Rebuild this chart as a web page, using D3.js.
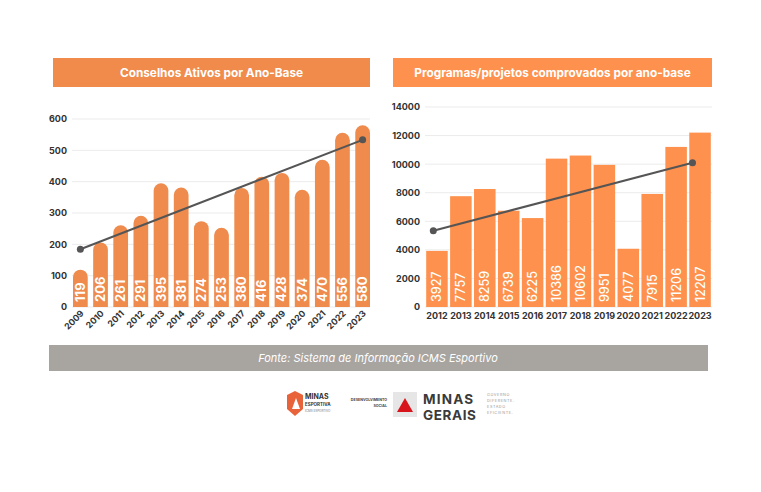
<!DOCTYPE html>
<html><head><meta charset="utf-8">
<script src="https://cdn.jsdelivr.net/npm/d3@7/dist/d3.min.js"></script>
<style>
body{margin:0;background:#fff;}
text{font-family:Inter,"Open Sans",sans-serif;}
</style></head><body>
<svg id="c" width="761" height="492"></svg>
<script>
// Data
const leftTitle = "Conselhos Ativos por Ano-Base";
const leftYears = ["2009","2010","2011","2012","2013","2014","2015","2016","2017","2018","2019","2020","2021","2022","2023"];
const leftValues = [119,206,261,291,395,381,274,253,380,416,428,374,470,556,580];
const leftTicks = [0,100,200,300,400,500,600];

const rightTitle = "Programas/projetos comprovados por ano-base";
const rightYears = ["2012","2013","2014","2015","2016","2017","2018","2019","2020","2021","2022","2023"];
const rightValues = [3927,7757,8259,6739,6225,10386,10602,9951,4077,7915,11206,12207];
const rightTicks = [0,2000,4000,6000,8000,10000,12000,14000];
const rightTrend = [5340, 10100]; // trend line end values as drawn (start 2012, end 2023)

const sourceText = "Fonte: Sistema de Informação ICMS Esportivo";

const svg = d3.select("#c");

function regression(vals){
  const n = vals.length, mx = (n-1)/2, my = d3.mean(vals);
  let num=0, den=0;
  vals.forEach((v,i)=>{num+=(i-mx)*(v-my); den+=(i-mx)*(i-mx);});
  const b = num/den, a = my - b*mx;
  return i => a + b*i;
}

// ---------- Left chart ----------
{
  const color = "#ee8b4d";
  svg.append("rect").attr("x",53).attr("y",58).attr("width",317).attr("height",29).attr("fill","#f08b4c");
  svg.append("text").attr("x",211.5).attr("y",76.5).attr("text-anchor","middle").attr("fill","#fff")
     .attr("font-size",11.8).attr("font-weight",700).text(leftTitle);

  const x = d3.scaleBand().domain(leftYears).range([72,371]).paddingInner(0.27).paddingOuter(0.05);
  const y = d3.scaleLinear().domain([0,600]).range([307,119]);
  const g = svg.append("g");
  g.selectAll("line.grid").data(leftTicks).join("line").attr("class","grid")
    .attr("x1",72).attr("x2",370).attr("y1",d=>y(d)).attr("y2",d=>y(d))
    .attr("stroke","#ebebeb").attr("stroke-width",1);
  const ax = d3.axisLeft(y).tickValues(leftTicks).tickSize(0).tickPadding(0).tickFormat(d3.format("d"));
  const ag = g.append("g").attr("transform","translate(67,0)").call(ax);
  ag.select(".domain").remove();
  ag.selectAll("text").attr("font-size",9).attr("font-weight",700).attr("fill","#333").attr("font-family","Inter,sans-serif");

  const bw = x.bandwidth(), r = bw/2;
  g.selectAll("path.bar").data(leftValues).join("path").attr("class","bar")
    .attr("fill",color)
    .attr("d",(d,i)=>{
      const x0 = x(leftYears[i]), y0 = y(d), yb = y(0);
      return `M${x0},${yb} L${x0},${y0+r} A${r},${r} 0 0 1 ${x0+bw},${y0+r} L${x0+bw},${yb} Z`;
    });
  g.selectAll("text.val").data(leftValues).join("text").attr("class","val")
    .attr("transform",(d,i)=>`translate(${x(leftYears[i])+bw/2+4.5},302) rotate(-90)`)
    .attr("fill","#fff").attr("font-size",13).attr("font-weight",700).text(d=>d);
  g.selectAll("text.xl").data(leftYears).join("text").attr("class","xl")
    .attr("transform",d=>`translate(${x(d)+bw/2+4},314) rotate(-45)`)
    .attr("text-anchor","end").attr("fill","#333").attr("font-size",8.8).attr("font-weight",700).text(d=>d);

  const f = regression(leftValues);
  const n = leftValues.length;
  const pts = [[x(leftYears[0])+bw/2, y(f(0))],[x(leftYears[n-1])+bw/2, y(f(n-1))]];
  g.append("line").attr("x1",pts[0][0]).attr("y1",pts[0][1]).attr("x2",pts[1][0]).attr("y2",pts[1][1])
    .attr("stroke","#555").attr("stroke-width",2);
  g.selectAll("circle").data(pts).join("circle").attr("cx",d=>d[0]).attr("cy",d=>d[1]).attr("r",3.5).attr("fill","#555");
}

// ---------- Right chart ----------
{
  const color = "#fe914d";
  svg.append("rect").attr("x",393).attr("y",58).attr("width",319).attr("height",29).attr("fill","#fe914d");
  svg.append("text").attr("x",552.5).attr("y",76.5).attr("text-anchor","middle").attr("fill","#fff")
     .attr("font-size",11.8).attr("font-weight",700).text(rightTitle);

  const x = d3.scaleBand().domain(rightYears).range([425,712]).paddingInner(0.1).paddingOuter(0.05);
  const y = d3.scaleLinear().domain([0,14000]).range([307,107]);
  const g = svg.append("g");
  g.selectAll("line.grid").data(rightTicks).join("line").attr("class","grid")
    .attr("x1",425).attr("x2",712).attr("y1",d=>y(d)).attr("y2",d=>y(d))
    .attr("stroke","#ebebeb").attr("stroke-width",1);
  const ax = d3.axisLeft(y).tickValues(rightTicks).tickSize(0).tickPadding(0).tickFormat(d3.format("d"));
  const ag = g.append("g").attr("transform","translate(420,0)").call(ax);
  ag.select(".domain").remove();
  ag.selectAll("text").attr("font-size",9).attr("font-weight",700).attr("fill","#333").attr("font-family","Inter,sans-serif");

  const bw = x.bandwidth();
  g.selectAll("rect.bar").data(rightValues).join("rect").attr("class","bar")
    .attr("x",(d,i)=>x(rightYears[i])).attr("width",bw)
    .attr("y",d=>y(d)).attr("height",d=>y(0)-y(d)).attr("fill",color);
  g.selectAll("text.val").data(rightValues).join("text").attr("class","val")
    .attr("transform",(d,i)=>`translate(${x(rightYears[i])+bw/2+4.5},302) rotate(-90)`)
    .attr("fill","#fff").attr("font-size",12.5).attr("font-weight",500).text(d=>d);
  g.selectAll("text.xl").data(rightYears).join("text").attr("class","xl")
    .attr("x",d=>x(d)+bw/2).attr("y",319)
    .attr("text-anchor","middle").attr("fill","#333").attr("font-size",9).attr("font-weight",700).text(d=>d);

  const n = rightYears.length;
  const pts = [[x(rightYears[0])+bw*0.33, y(rightTrend[0])],[x(rightYears[n-1])+bw*0.15, y(rightTrend[1])]];
  g.append("line").attr("x1",pts[0][0]).attr("y1",pts[0][1]).attr("x2",pts[1][0]).attr("y2",pts[1][1])
    .attr("stroke","#555").attr("stroke-width",2);
  g.selectAll("circle").data(pts).join("circle").attr("cx",d=>d[0]).attr("cy",d=>d[1]).attr("r",3.5).attr("fill","#555");
}

// ---------- Footer ----------
svg.append("rect").attr("x",49).attr("y",345).attr("width",659).attr("height",26).attr("fill","#a8a4a0");
svg.append("text").attr("x",378).attr("y",362).attr("text-anchor","middle").attr("fill","#fff")
  .attr("font-size",11).attr("font-style","italic").attr("font-family","Roboto,sans-serif").text(sourceText);

// Logos (simplified)
const lg = svg.append("g");
lg.append("path").attr("d","M295,391 L303,395 L303,409 L295,416 L287,409 L287,395 Z").attr("fill","#e8623a");
lg.append("path").attr("d","M292,409 L296,398 L300,409 Z").attr("fill","#fff");
lg.append("text").attr("x",305).attr("y",399).attr("font-size",7).attr("font-weight",700).attr("fill","#333").attr("font-family","Roboto Condensed,Roboto,sans-serif").text("MINAS");
lg.append("text").attr("x",305).attr("y",406).attr("font-size",4.5).attr("font-weight",700).attr("fill","#333").text("ESPORTIVA");
lg.append("text").attr("x",305).attr("y",412).attr("font-size",3).attr("fill","#777").text("ICMS ESPORTIVO");
lg.append("text").attr("x",387).attr("y",401).attr("text-anchor","end").attr("font-size",3.6).attr("font-weight",700).attr("fill","#444").text("DESENVOLVIMENTO");
lg.append("text").attr("x",387).attr("y",407).attr("text-anchor","end").attr("font-size",3.6).attr("font-weight",700).attr("fill","#444").text("SOCIAL");
lg.append("rect").attr("x",393).attr("y",392).attr("width",24).attr("height",25).attr("fill","#e6e6e6");
lg.append("path").attr("d","M405,398 L413,412 L397,412 Z").attr("fill","#d7141b");
lg.append("text").attr("x",423).attr("y",403.5).attr("font-size",13.5).attr("font-weight",700).attr("fill","#3a3a3a").attr("font-family","Roboto,sans-serif").attr("letter-spacing",1.2).text("MINAS");
lg.append("text").attr("x",423).attr("y",419.5).attr("font-size",13.5).attr("font-weight",700).attr("fill","#3a3a3a").attr("font-family","Roboto,sans-serif").attr("letter-spacing",0.6).text("GERAIS");
["GOVERNO","DIFERENTE.","ESTADO","EFICIENTE."].forEach((t,i)=>{
  lg.append("text").attr("x",487).attr("y",396+i*6).attr("font-size",3.8).attr("fill","#999").attr("letter-spacing",0.6).text(t);
});
</script>
</body></html>
